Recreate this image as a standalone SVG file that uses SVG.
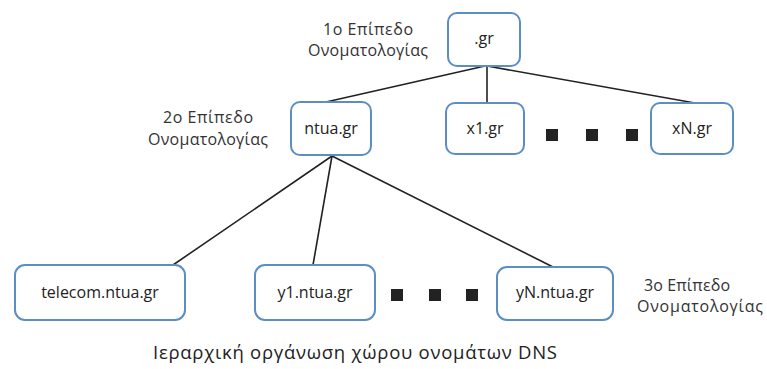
<svg xmlns="http://www.w3.org/2000/svg" width="767" height="369" viewBox="0 0 767 369">
<style>
.box{fill:#fff;stroke:#5b8ec4;stroke-width:2}
.lbl{font-family:"Open Sans","DejaVu Sans",sans-serif;font-size:16px;fill:#222;text-anchor:middle}
.lvl{font-family:"Open Sans","DejaVu Sans",sans-serif;font-size:16px;fill:#333;text-anchor:middle}
.cap{font-family:"Open Sans","DejaVu Sans",sans-serif;font-size:18.5px;fill:#222;text-anchor:middle}
.edge{stroke:#222;stroke-width:1.6;fill:none}
.dot{fill:#222}
</style>
<rect width="767" height="369" fill="#fff"/>
<g id="connectors">
<line class="edge" x1="485" y1="66" x2="326" y2="102"/>
<line class="edge" x1="487" y1="66" x2="487" y2="103"/>
<line class="edge" x1="487" y1="66" x2="695" y2="103"/>
<line class="edge" x1="332" y1="156" x2="173" y2="265"/>
<line class="edge" x1="332" y1="156" x2="313" y2="265"/>
<line class="edge" x1="332" y1="156" x2="553" y2="267"/>
</g>
<g id="gr"><rect class="box" x="448" y="13" width="72" height="53" rx="9"/><text class="lbl" x="484" y="44">.gr</text></g>
<g id="ntua"><rect class="box" x="291" y="102" width="80" height="53" rx="9"/><text class="lbl" x="331" y="134">ntua.gr</text></g>
<g id="x1"><rect class="box" x="446" y="103" width="78" height="51" rx="9"/><text class="lbl" x="485" y="134">x1.gr</text></g>
<g id="xN"><rect class="box" x="651" y="103" width="82" height="51" rx="9"/><text class="lbl" x="692" y="134">xN.gr</text></g>
<g id="telecom"><rect class="box" x="15" y="265" width="170" height="55" rx="10"/><text class="lbl" x="100" y="298">telecom.ntua.gr</text></g>
<g id="y1"><rect class="box" x="255" y="265" width="120" height="55" rx="10"/><text class="lbl" x="315" y="298">y1.ntua.gr</text></g>
<g id="yN"><rect class="box" x="497" y="267" width="116" height="53" rx="10"/><text class="lbl" x="555" y="298">yN.ntua.gr</text></g>
<g id="dots1">
<rect class="dot" x="546" y="129" width="12" height="12"/>
<rect class="dot" x="586" y="129" width="12" height="12"/>
<rect class="dot" x="626" y="129" width="12" height="12"/>
</g>
<g id="dots2">
<rect class="dot" x="391" y="289" width="12" height="12"/>
<rect class="dot" x="429" y="289" width="12" height="12"/>
<rect class="dot" x="466" y="289" width="12" height="12"/>
</g>
<g id="level1"><text class="lvl" x="368" y="35" textLength="90">1ο Επίπεδο</text><text class="lvl" x="368" y="56" textLength="120">Ονοματολογίας</text></g>
<g id="level2"><text class="lvl" x="208" y="123" textLength="90">2ο Επίπεδο</text><text class="lvl" x="208" y="145" textLength="120">Ονοματολογίας</text></g>
<g id="level3"><text class="lvl" x="687" y="291" textLength="86">3ο Επίπεδο</text><text class="lvl" x="700" y="312" textLength="126">Ονοματολογίας</text></g>
<text class="cap" x="355" y="359" textLength="404">Ιεραρχική οργάνωση χώρου ονομάτων DNS</text>
</svg>
